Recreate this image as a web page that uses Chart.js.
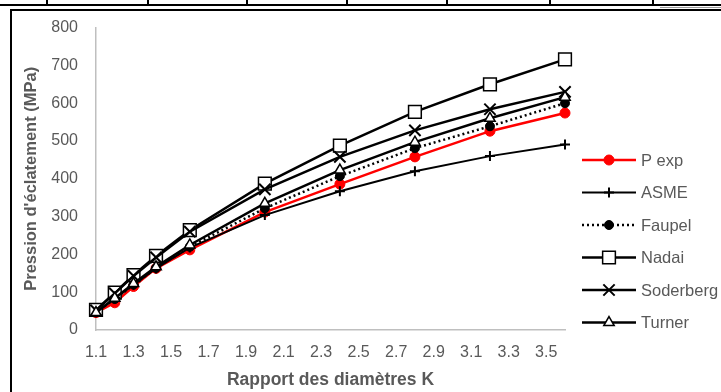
<!DOCTYPE html>
<html lang="fr">
<head>
  <meta charset="UTF-8">
  <title>Pression d'éclatement</title>
  <script src="https://cdn.jsdelivr.net/npm/chart.js"></script>
  <style>
    body { margin: 0; background: #fff; }
    #wrap { position: relative; width: 721px; height: 392px; overflow: hidden; }
    #chart { position: absolute; left: 0; top: 0; }
    .deco { position: absolute; background: #000; pointer-events: none; }
  </style>
</head>
<body>
  <div id="wrap">
    <canvas id="chart" width="721" height="392"></canvas>
    <!-- bits of the table around the chart -->
    <div class="deco" style="left:0; top:4px; width:721px; height:2px;"></div>
    <div class="deco" style="left:660px; top:7px; width:61px; height:1px; background:#999;"></div>
    <div class="deco" style="left:46px; top:0; width:2px; height:5px;"></div>
    <div class="deco" style="left:147px; top:0; width:2px; height:5px;"></div>
    <div class="deco" style="left:246px; top:0; width:2px; height:5px;"></div>
    <div class="deco" style="left:346px; top:0; width:2px; height:5px;"></div>
    <div class="deco" style="left:446px; top:0; width:2px; height:5px;"></div>
    <div class="deco" style="left:549px; top:0; width:2px; height:5px;"></div>
    <div class="deco" style="left:652px; top:0; width:2px; height:5px;"></div>
    <!-- chart frame -->
    <div class="deco" style="left:10px; top:9px; width:711px; height:2px;"></div>
    <div class="deco" style="left:10px; top:9px; width:2px; height:383px;"></div>
  </div>

  <script>
    // rapport des diametres K
    const K = [1.1, 1.2, 1.3, 1.42, 1.6, 2.0, 2.4, 2.8, 3.2, 3.6];
    const xTicks = [1.1, 1.3, 1.5, 1.7, 1.9, 2.1, 2.3, 2.5, 2.7, 2.9, 3.1, 3.3, 3.5];

    // pressions (MPa)
    const pExp      = [46, 72, 115, 163, 212, 312, 386, 458, 526, 574];
    const asme      = [47, 83, 120, 163, 218, 304, 367, 420, 460, 491];
    const faupel    = [47, 82, 120, 164, 220, 322, 407, 481, 539, 600];
    const nadai     = [53, 99, 145, 196, 264, 387, 488, 577, 650, 716];
    const soderberg = [52, 97, 143, 192, 260, 372, 458, 528, 584, 630];
    const turner    = [46, 84, 123, 167, 225, 335, 423, 497, 560, 616];

    const font = "'Liberation Sans', Arial, sans-serif";
    const grey = '#595959';

    function pts(arr) {
      return arr.map((v, i) => ({x: K[i], y: v}));
    }

    const datasets = [
      { label: 'P exp', data: pts(pExp), borderColor: '#ff0000', backgroundColor: '#ff0000',
        borderWidth: 2.5, pointStyle: 'circle', pointRadius: 5, pointBorderWidth: 1, order: 5 },
      { label: 'ASME', data: pts(asme), borderColor: '#000', backgroundColor: '#000',
        borderWidth: 2, pointStyle: 'cross', pointRadius: 5, pointBorderWidth: 2, order: 4 },
      { label: 'Faupel', data: pts(faupel), borderColor: '#000', backgroundColor: '#000',
        borderWidth: 2.5, borderDash: [2, 3], pointStyle: 'circle', pointRadius: 4.5, pointBorderWidth: 1, order: 3 },
      { label: 'Nadai', data: pts(nadai), borderColor: '#000', backgroundColor: '#fff',
        borderWidth: 2.5, pointStyle: 'rect', pointRadius: 9, pointBorderWidth: 1.5, order: 2 },
      { label: 'Soderberg', data: pts(soderberg), borderColor: '#000', backgroundColor: '#000',
        borderWidth: 2.5, pointStyle: 'crossRot', pointRadius: 8, pointBorderWidth: 2, order: 1 },
      { label: 'Turner', data: pts(turner), borderColor: '#000', backgroundColor: '#fff',
        borderWidth: 2.5, pointStyle: 'triangle', pointRadius: 6, pointBorderWidth: 1.5, order: 0 }
    ];
    datasets.forEach(ds => { ds.clip = false; });

    // legend with a line and a marker, like the spreadsheet one
    const lineLegend = {
      id: 'lineLegend',
      afterDraw(chart) {
        const ctx = chart.ctx;
        chart.data.datasets.forEach((ds, i) => {
          const y = 160 + i * 32.5;
          ctx.save();
          ctx.strokeStyle = ds.borderColor;
          ctx.lineWidth = ds.borderWidth;
          ctx.setLineDash(ds.borderDash || []);
          ctx.beginPath();
          ctx.moveTo(582, y);
          ctx.lineTo(636, y);
          ctx.stroke();
          ctx.setLineDash([]);
          ctx.fillStyle = ds.backgroundColor;
          ctx.strokeStyle = ds.borderColor;
          ctx.lineWidth = ds.pointBorderWidth;
          Chart.helpers.drawPoint(ctx, {
            pointStyle: ds.pointStyle,
            radius: ds.pointRadius,
            borderWidth: ds.pointBorderWidth,
            rotation: 0
          }, 609, y);
          ctx.fillStyle = grey;
          ctx.font = '16.5px ' + font;
          ctx.textBaseline = 'middle';
          ctx.fillText(ds.label, 641, y + 1);
          ctx.restore();
        });
      }
    };

    const bg = {
      id: 'bg',
      beforeDraw(chart) {
        const ctx = chart.ctx;
        ctx.save();
        ctx.fillStyle = '#fff';
        ctx.fillRect(0, 0, chart.width, chart.height);
        ctx.restore();
      }
    };

    new Chart(document.getElementById('chart'), {
      type: 'line',
      data: { datasets: datasets },
      plugins: [bg, lineLegend],
      options: {
        responsive: false,
        animation: false,
        layout: { padding: { left: 0, top: 27, right: 156, bottom: 0 } },
        plugins: { legend: { display: false }, tooltip: { enabled: false } },
        scales: {
          x: {
            type: 'linear', min: 1.1, max: 3.6,
            afterBuildTicks: s => { s.ticks = xTicks.map(v => ({ value: v })); },
            afterFit: s => { s.height = 62; },
            grid: { display: false, drawTicks: false },
            border: { display: true, color: '#bfbfbf', width: 1.5 },
            ticks: {
              color: grey, font: { size: 16, family: font }, padding: 13,
              maxRotation: 0, autoSkip: false,
              callback: v => v.toFixed(1)
            },
            title: {
              display: true, text: 'Rapport des diamètres K', color: grey,
              font: { size: 17.5, weight: 'bold', family: font }, padding: { top: 0, bottom: 1 }
            }
          },
          y: {
            min: 0, max: 800,
            afterFit: s => { s.width = 96; },
            grid: { display: false, drawTicks: false },
            border: { display: true, color: '#bfbfbf', width: 1.5 },
            ticks: { stepSize: 100, color: grey, font: { size: 16, family: font }, padding: 18 },
            title: {
              display: true, text: "Pression d'éclatement (MPa)", color: grey,
              font: { size: 16.5, weight: 'bold', family: font }, padding: { top: 22, bottom: 0 }
            }
          }
        }
      }
    });
  </script>
</body>
</html>
